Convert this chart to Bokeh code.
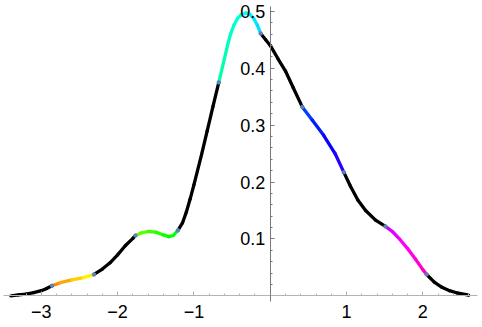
import colorsys
import numpy as np
from bokeh.plotting import figure
from bokeh.models import FixedTicker, Range1d
from bokeh.embed import file_html
from bokeh.resources import INLINE

# ---- data ----
x_vals = [-3.40, -3.30, -3.20, -3.10, -3.00, -2.93, -2.86, -2.75, -2.60, -2.45,
          -2.31, -2.20, -2.10, -2.00, -1.90, -1.80, -1.765, -1.70, -1.60, -1.50,
          -1.40, -1.33, -1.27, -1.21, -1.15, -1.10, -1.05, -1.00, -0.90, -0.826,
          -0.75, -0.674, -0.60, -0.56, -0.52, -0.475, -0.43, -0.38, -0.32, -0.27,
          -0.215, -0.17, -0.125, -0.06, 0.00, 0.10, 0.20, 0.30, 0.42, 0.55,
          0.70, 0.85, 0.965, 1.05, 1.15, 1.25, 1.38, 1.51, 1.60, 1.70,
          1.80, 1.90, 2.00, 2.05, 2.15, 2.25, 2.35, 2.45, 2.60]
y_vals = [0.000, 0.0015, 0.003, 0.0055, 0.009, 0.013, 0.0176, 0.023, 0.028, 0.032,
          0.0375, 0.047, 0.058, 0.072, 0.088, 0.101, 0.106, 0.110, 0.113, 0.112,
          0.107, 0.104, 0.106, 0.115, 0.128, 0.147, 0.170, 0.195, 0.248, 0.290,
          0.333, 0.375, 0.417, 0.440, 0.460, 0.476, 0.487, 0.494, 0.497, 0.495,
          0.487, 0.476, 0.461, 0.450, 0.440, 0.417, 0.395, 0.366, 0.332, 0.309,
          0.282, 0.250, 0.217, 0.193, 0.168, 0.150, 0.133, 0.122, 0.113, 0.099,
          0.083, 0.065, 0.046, 0.0375, 0.024, 0.015, 0.009, 0.005, 0.001]
segment_bounds = [-2.86, -2.31, -1.765, -1.21, -0.674, -0.125, 0.42, 0.965, 1.51, 2.05]

x_ticks = [-3, -2, -1, 1, 2]
x_tick_labels = ["\u22123", "\u22122", "\u22121", "1", "2"]
y_ticks = [0.1, 0.2, 0.3, 0.4, 0.5]
y_tick_labels = ["0.1", "0.2", "0.3", "0.4", "0.5"]

# ---- figure ----
W, H = 482, 327
p = figure(width=W, height=H, output_backend="svg", toolbar_location=None,
           x_range=Range1d(-3.535, 2.782), y_range=Range1d(-0.0557, 0.519),
           min_border_left=0, min_border_right=0, min_border_top=0,
           min_border_bottom=0)
p.outline_line_color = None
p.grid.visible = False
p.background_fill_color = "white"
p.border_fill_color = "white"


def hue_color(xv):
    h = (0.08 + 0.163 * (xv + 2.86)) % 1.0
    r, g, b = colorsys.hsv_to_rgb(h, 1.0, 1.0)
    return "#%02x%02x%02x" % (int(r * 255 + 0.5), int(g * 255 + 0.5), int(b * 255 + 0.5))


xs = np.array(x_vals)
ys = np.array(y_vals)
x0, x1 = xs[:-1], xs[1:]
y0, y1 = ys[:-1], ys[1:]
xm = (x0 + x1) / 2
seg_idx = np.searchsorted(segment_bounds, xm)
is_col = seg_idx % 2 == 1
colors = [hue_color(m) for m in xm[is_col]]

# ---- axes crossing at the origin ----
minor_x = [round(v, 2) for v in np.arange(-3.4, 2.61, 0.2) if abs(v - round(v)) > 1e-6]
minor_y = [round(v, 2) for v in np.arange(0.02, 0.505, 0.02)
           if abs(v * 10 - round(v * 10)) > 1e-6]

xa = p.xaxis[0]
xa.fixed_location = 0
xa.bounds = (-3.495, 2.717)
xa.ticker = FixedTicker(ticks=x_ticks, minor_ticks=minor_x)
xa.major_label_overrides = dict(zip(x_ticks, x_tick_labels))
xa.axis_line_color = "#b3b3b3"
xa.major_tick_line_color = "#b3b3b3"
xa.minor_tick_line_color = "#b3b3b3"
xa.major_tick_in, xa.major_tick_out = 4, 0
xa.minor_tick_in, xa.minor_tick_out = 2, 0
xa.major_label_standoff = 9

ya = p.yaxis[0]
ya.fixed_location = 0
ya.bounds = (-0.01, 0.509)
ya.ticker = FixedTicker(ticks=y_ticks, minor_ticks=minor_y)
ya.major_label_overrides = dict(zip(y_ticks, y_tick_labels))
ya.axis_line_color = "#7a7a7a"
ya.major_tick_line_color = "#7a7a7a"
ya.minor_tick_line_color = "#7a7a7a"
ya.major_tick_in, ya.major_tick_out = 4, 0
ya.minor_tick_in, ya.minor_tick_out = 2, 0
ya.major_label_standoff = 5

for ax in (xa, ya):
    ax.major_label_text_font = "Liberation Sans"
    ax.major_label_text_font_size = "18px"
    ax.major_label_text_color = "black"

p.segment(x0[~is_col], y0[~is_col], x1[~is_col], y1[~is_col],
          line_color="black", line_width=3.3, line_cap="round")
p.segment(x0[is_col], y0[is_col], x1[is_col], y1[is_col],
          line_color=colors, line_width=3.3, line_cap="round")

bx = [x_vals[x_vals.index(b)] for b in segment_bounds]
by = [y_vals[x_vals.index(b)] for b in segment_bounds]
p.scatter(bx, by, size=3.5, color="#5e81b5")

open("out.html", "w").write(file_html(p, INLINE))
